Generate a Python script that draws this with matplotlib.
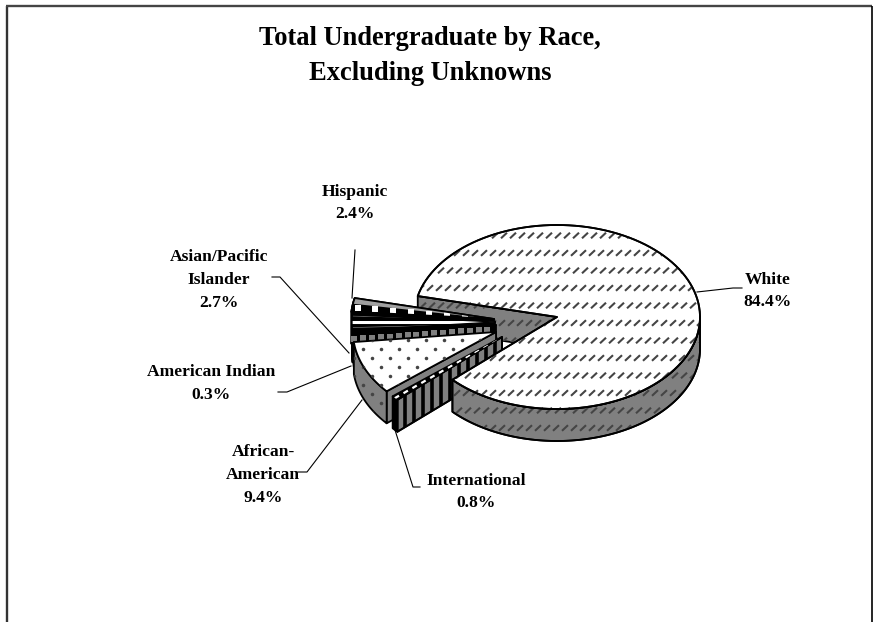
import numpy as np
import matplotlib
matplotlib.use('Agg')
import matplotlib.pyplot as plt
from matplotlib.patches import Polygon
from matplotlib.collections import LineCollection

plt.rcParams['font.family'] = ['Liberation Serif', 'DejaVu Serif']
plt.rcParams['hatch.linewidth'] = 0.5

title = 'Total Undergraduate by Race,\nExcluding Unknowns'
# order = clockwise around the pie starting at the bottom of the notch
categories = ['International', 'African-American', 'American Indian',
              'Asian/Pacific Islander', 'Hispanic', 'White']
values = [0.8, 9.4, 0.3, 2.7, 2.4, 84.4]
label_text = ['International\n0.8%', 'African-\nAmerican\n9.4%', 'American Indian\n0.3%',
              'Asian/Pacific\nIslander\n2.7%', 'Hispanic\n2.4%', 'White\n84.4%']
label_xy = [(476, 492), (263, 475), (211, 383.5), (219, 280), (355, 203), (768, 291)]
leaders = [[(395, 430), (413, 487), (420, 487)],
           [(362, 400), (307, 472), (298, 472)],
           [(351, 366), (287, 392), (278, 392)],
           [(349, 353), (280, 277), (272, 277)],
           [(352, 298), (355, 250)],
           [(697, 292), (733, 288), (742, 288)]]

# pie geometry in pixels
RX, RY, DEPTH = 143, 92, 32
START = 223
apex = {'International': (502, 337), 'African-American': (496, 332), 'American Indian': (496, 325),
        'Asian/Pacific Islander': (495, 322), 'Hispanic': (494, 319), 'White': (557, 317)}
GRAY = '#808080'
EDGE = 1.3

fig = plt.figure(figsize=(8.76, 6.22), dpi=100)
ax = fig.add_axes([0, 0, 1, 1])
ax.set_xlim(0, 876)
ax.set_ylim(622, 0)
ax.axis('off')

# slice angles from the values
angles = {}
pos = START
for c, v in zip(categories, values):
    angles[c] = (pos, pos - v * 3.6)
    pos -= v * 3.6


def arc(c, t1, t2, n=120):
    t = np.radians(np.linspace(t1, t2, n))
    return np.column_stack([c[0] + RX * np.cos(t), c[1] - RY * np.sin(t)])


def poly(pts, fc, z, ec='black', lw=EDGE, **kw):
    p = Polygon(pts, closed=True, facecolor=fc, edgecolor=ec, linewidth=lw, zorder=z,
                joinstyle='round', **kw)
    ax.add_patch(p)
    return p


def dashes(patch, z):
    # the white slice pattern: rows of short diagonal dashes
    segs = []
    for i, y in enumerate(np.arange(218, 450, 17.5)):
        for x in np.arange(400 + (i % 2) * 2, 720, 9.0):
            segs.append([(x, y + 2.8), (x + 6, y - 2.8)])
    lc = LineCollection(segs, colors='#454545', linewidths=1.5, zorder=z)
    ax.add_collection(lc)
    lc.set_clip_path(patch)


def dots(patch, z):
    xs, ys = [], []
    for i, y in enumerate(np.arange(340, 430, 9.0)):
        for x in np.arange(354 + (i % 2) * 9, 500, 18.0):
            xs.append(x)
            ys.append(y)
    sc = ax.scatter(xs, ys, s=6.5, color='#444444', linewidths=0, zorder=z)
    sc.set_clip_path(patch)


def side_quad(c, t, z, fc):
    e = arc(c, t, t, 1)[0]
    return poly([c, e, (e[0], e[1] + DEPTH), (c[0], c[1] + DEPTH)], fc, z)


def outer_side(c, t1, t2, z, fc):
    # front wall under the rim
    a = arc(c, t1, t2)
    return poly(np.vstack([a, (a + [0, DEPTH])[::-1]]), fc, z)


def top(c, t1, t2, z, fc, **kw):
    return poly(np.vstack([[c], arc(c, t1, t2)]), fc, z, **kw)


# notch wall of the white slice sits behind everything
w1, w2 = angles['White']
wc = apex['White']
p = side_quad(wc, w1, 2, GRAY)
dashes(p, 2.1)

# Hispanic
c = apex['Hispanic']
t1, t2 = angles['Hispanic']
side_quad(c, t1, 3, 'black')
outer_side(c, t1, t2, 3, 'black')
h = top(c, t1, t2, 4, 'black')
chk = Polygon(np.vstack([[c], arc(c, t2, t2 + 3.6)]), closed=True, facecolor='#a0a0a0',
              edgecolor='none', hatch='xxxxxx', zorder=4.1)
ax.add_patch(chk)
chk.set_clip_path(h)
sq_t = np.radians(t2 + 5.8)
sq_r = np.arange(0.08, 0.98, 0.126)
sq = ax.scatter(c[0] + RX * sq_r * np.cos(sq_t), c[1] - RY * sq_r * np.sin(sq_t), s=22, marker='s',
                color='white', linewidths=0, zorder=4.2)
sq.set_clip_path(h)
poly(np.vstack([[c], arc(c, t1, t2)]), 'none', 4.3)

# Asian/Pacific Islander: black top with a white band
c = apex['Asian/Pacific Islander']
t1, t2 = angles['Asian/Pacific Islander']
side_quad(c, t1, 5, 'black')
outer_side(c, 180, t1, 5, 'black')
h = top(c, t1, t2, 6, 'black')
for dy, lw, col in [(0, 2.2, 'white'), (-6, 0.4, '#999999'), (5.5, 0.4, '#999999')]:
    ln, = ax.plot([c[0] - RX, c[0]], [c[1] + dy, c[1] + dy * 0.4], color=col, lw=lw, zorder=6.1)
    ln.set_clip_path(h)
poly(np.vstack([[c], arc(c, t1, t2)]), 'none', 6.2, lw=0.9)

# American Indian: black with a row of gray squares on its wall
c = apex['American Indian']
t1, t2 = angles['American Indian']
wall = side_quad(c, t1, 7, 'black')
outer_side(c, t1, t2, 7, 'black')
top(c, t1, t2, 8, 'black')
e = arc(c, t1, t1, 1)[0]
fr = np.arange(0.06, 1.0, 0.0625)
sq = ax.scatter(c[0] + (e[0] - c[0]) * fr, c[1] + (e[1] - c[1]) * fr + 4.0, s=13, marker='s',
                color=GRAY, linewidths=0, zorder=8.1)

# African-American
c = apex['African-American']
t1, t2 = angles['African-American']
side_quad(c, t1, 9, GRAY)
s = outer_side(c, t1, t2, 9, GRAY)
dots(s, 9.1)
t = top(c, t1, t2, 10, 'white')
dots(t, 10.1)

# International: striped wall, dashed top
c = apex['International']
t1, t2 = angles['International']
wall = side_quad(c, t1, 11, GRAY)
xs = np.arange(c[0] - 106, c[0] + 2, 9.0)
st = LineCollection([[(x, 300), (x, 440)] for x in xs], colors='black', linewidths=2.6, zorder=11.1)
ax.add_collection(st)
st.set_clip_path(wall)
poly(wall.get_xy(), 'none', 11.2)
outer_side(c, t1, t2, 11.3, 'black')
h = top(c, t1, t2, 12, 'black')
mid = np.radians((t1 + t2) / 2)
fr = np.arange(0.07, 1.0, 0.083)
px = c[0] + RX * fr * np.cos(mid)
py = c[1] - RY * fr * np.sin(mid)
dl = LineCollection([[(x - 2.2, y + 1.3), (x + 2.2, y - 1.3)] for x, y in zip(px, py)],
                    colors='white', linewidths=1.6, zorder=12.1)
ax.add_collection(dl)
dl.set_clip_path(h)

# White slice in front
s = outer_side(wc, w2 + 360, 360, 14, GRAY)
dashes(s, 14.1)
poly(s.get_xy(), 'none', 14.2)
t = top(wc, w1, w2, 15, 'white')
dashes(t, 15.1)
poly(t.get_xy(), 'none', 15.2)

# frame, open at the bottom edge of the picture
ax.plot([7, 7], [6, 622], color='#333333', lw=1.7, zorder=1, solid_capstyle='butt')
ax.plot([6, 872], [6, 6], color='#444444', lw=1.7, zorder=1, solid_capstyle='butt')
ax.plot([871.5, 871.5], [6, 622], color='black', lw=1.2, zorder=1, solid_capstyle='butt')

ax.text(430, 56, title, ha='center', va='center', fontsize=19.1, fontweight='bold', linespacing=1.5)

for txt, xy, ld in zip(label_text, label_xy, leaders):
    ax.text(xy[0], xy[1], txt, ha='center', va='center', fontsize=12.6, fontweight='bold',
            linespacing=1.58, zorder=20)
    ax.plot(*zip(*ld), color='black', lw=0.8, zorder=16)

fig.savefig('out.png', dpi=100)
